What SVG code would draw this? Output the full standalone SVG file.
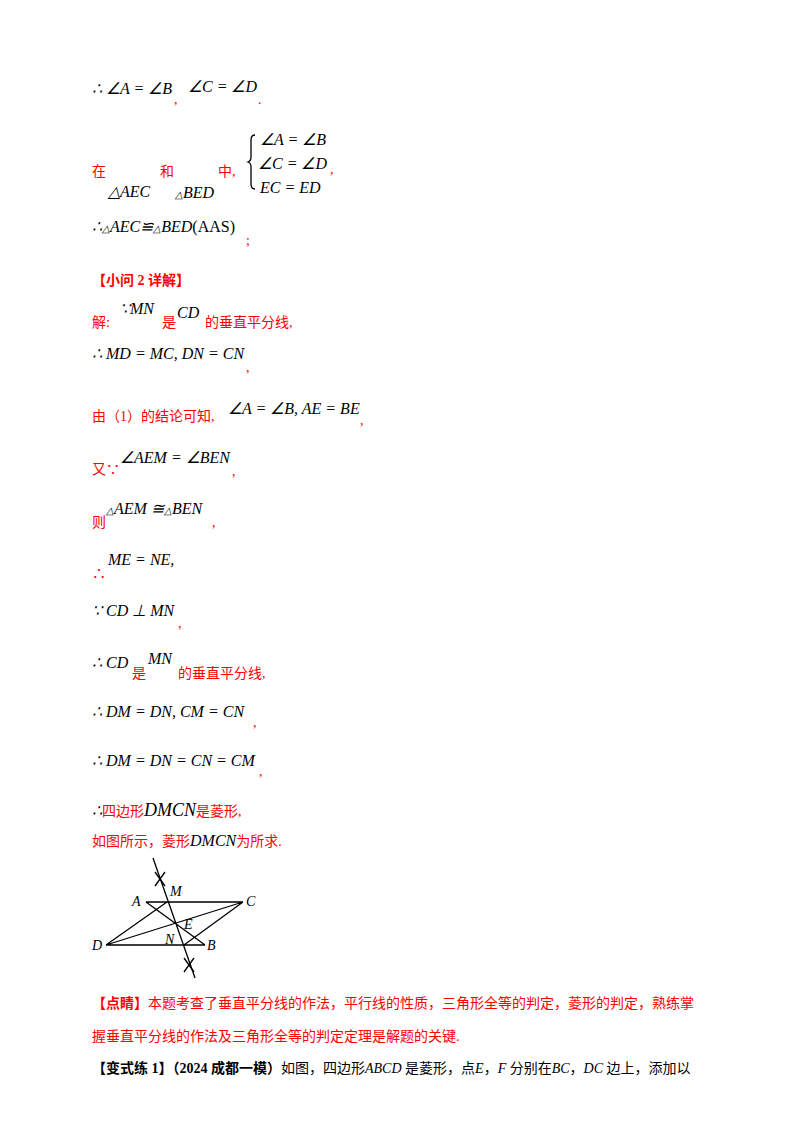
<svg xmlns="http://www.w3.org/2000/svg" width="800" height="1132" viewBox="0 0 800 1132">
<style>
.m{font-family:"Liberation Serif",serif;font-style:italic;font-size:16px;fill:#000}
.n{font-family:"Liberation Serif",serif;font-size:16px;fill:#000}
.r{font-family:"Liberation Serif","Noto Sans CJK SC",serif;font-size:14px;fill:#f00}
.k{font-family:"Liberation Serif","Noto Sans CJK SC",serif;font-size:14px;fill:#000}
.kb{font-family:"Liberation Serif","Noto Sans CJK SC",serif;font-size:14px;font-weight:bold}
.fl{font-family:"Liberation Serif",serif;font-style:italic;font-size:14px;fill:#000}
.ln{stroke:#000;stroke-width:1.3;fill:none}
</style>
<rect width="800" height="1132" fill="#fff"/>
<g id="text">
<text x="92" y="94" class="m">∴ ∠A = ∠B</text><text x="174" y="104" class="r">,</text>
<text x="188" y="92" class="m">∠C = ∠D</text><text x="258" y="104" class="r">.</text>
<text x="92" y="176" class="r">在</text><text x="160" y="176" class="r">和</text><text x="218" y="176" class="r">中,</text>
<text x="108" y="197" class="m">△AEC</text><text x="175" y="198" class="m"><tspan font-size="10">△</tspan>BED</text>
<path d="M255 135 q-4 0 -4 5 v17 q0 4 -3 5 q3 1 3 5 v17 q0 5 4 5" class="ln" stroke-width="1"/>
<text x="260" y="145" class="m">∠A = ∠B</text>
<text x="258" y="169" class="m">∠C = ∠D</text><text x="330" y="174" class="r">,</text>
<text x="260" y="193" class="m">EC = ED</text>
<text x="92" y="232" class="m">∴<tspan font-size="10">△</tspan>AEC≌<tspan font-size="10">△</tspan>BED<tspan font-style="normal">(AAS)</tspan></text>
<text x="246" y="245" class="r">;</text>
<text x="92" y="285" class="r" font-weight="bold">【小问 2 详解】</text>
<text x="92" y="327" class="r">解:</text><text x="120" y="314" class="m" font-size="14">∵MN</text>
<text x="162" y="327" class="r">是</text><text x="177" y="318" class="m" font-size="20">CD</text>
<text x="205" y="327" class="r">的垂直平分线,</text>
<text x="92" y="359" class="m">∴ MD = MC, DN = CN</text><text x="246" y="372" class="r">,</text>
<text x="92" y="421" class="r">由（1）的结论可知,</text><text x="228" y="414" class="m">∠A = ∠B, AE = BE</text><text x="360" y="425" class="r">,</text>
<text x="92" y="474" class="r">又∵</text><text x="120" y="463" class="m">∠AEM = ∠BEN</text><text x="232" y="476" class="r">,</text>
<text x="92" y="527" class="r">则</text><text x="106" y="514" class="m"><tspan font-size="10">△</tspan>AEM ≅<tspan font-size="10">△</tspan>BEN</text><text x="212" y="527" class="r">,</text>
<text x="92" y="578" class="r" font-size="18">∴</text><text x="108" y="565" class="m">ME = NE,</text>
<text x="92" y="616" class="m">∵ CD ⊥ MN</text><text x="178" y="628" class="r">,</text>
<text x="92" y="668" class="m">∴ CD</text><text x="132" y="678" class="r">是</text><text x="148" y="664" class="m" font-size="18">MN</text><text x="178" y="678" class="r">的垂直平分线,</text>
<text x="92" y="717" class="m">∴ DM = DN, CM = CN</text><text x="253" y="727" class="r">,</text>
<text x="92" y="766" class="m">∴ DM = DN = CN = CM</text><text x="259" y="776" class="r">,</text>
<text x="92" y="816" class="m">∴<tspan class="r" font-style="normal">四边形</tspan><tspan font-size="18">DMCN</tspan><tspan class="r" font-style="normal">是菱形,</tspan></text>
<text x="92" y="846" class="r">如图所示，菱形<tspan class="m" font-size="18" fill="#000">DMCN</tspan>为所求.</text>
<text x="92" y="1008" class="r"><tspan font-weight="bold">【点睛】</tspan>本题考查了垂直平分线的作法，平行线的性质，三角形全等的判定，菱形的判定，熟练掌</text>
<text x="92" y="1041" class="r">握垂直平分线的作法及三角形全等的判定定理是解题的关键.</text>
<text x="92" y="1073" class="k"><tspan class="kb">【变式练 1】（2024 成都一模）</tspan>如图，四边形<tspan font-style="italic">ABCD</tspan> 是菱形，点<tspan font-style="italic">E</tspan>，<tspan font-style="italic">F</tspan> 分别在<tspan font-style="italic">BC</tspan>，<tspan font-style="italic">DC</tspan> 边上，添加以</text>
</g>
<g id="figure">
<path class="ln" stroke-width="1" d="M146 902 H243 M106 945 H205 M146 902 L205 945 M106 945 L243 902 M106 945 L167 902 M243 902 L184 945 M153 858 L195 978"/>
<path class="ln" stroke-width="1" d="M155 872 L165 886 M165 872 L155 886 M184 958 L194 972 M194 958 L184 972"/>
<text x="132" y="906" class="fl">A</text><text x="170" y="896" class="fl">M</text><text x="246" y="906" class="fl">C</text>
<text x="184" y="929" class="fl">E</text><text x="92" y="950" class="fl">D</text><text x="165" y="944" class="fl">N</text><text x="207" y="950" class="fl">B</text>
</g>
</svg>
